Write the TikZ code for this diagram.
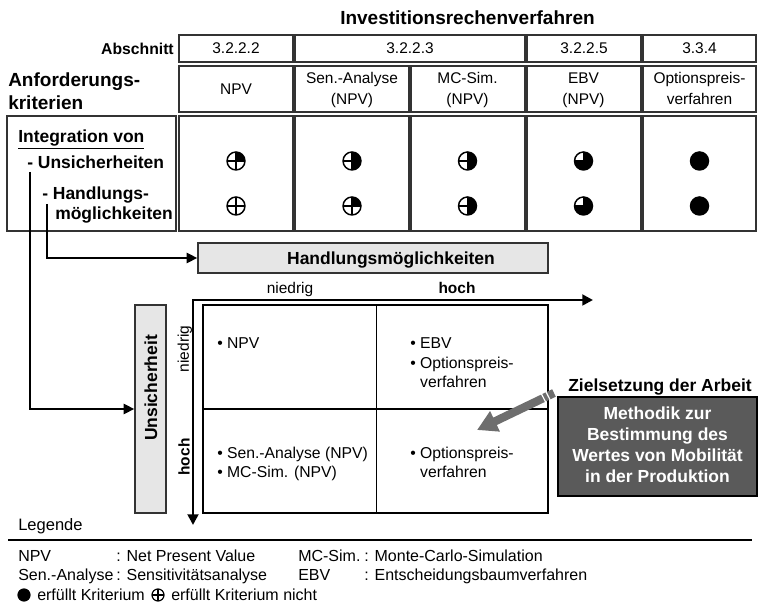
\documentclass[tikz,border=0pt]{standalone}
\usepackage{fontspec}
\setmainfont{Liberation Sans}
\usetikzlibrary{arrows.meta,calc}
\newcommand\fsreg{\fontsize{11.6}{15.75}\selectfont}
\newcommand\fslegend{\fontsize{12}{14}\selectfont}
\newcommand\fsquad{\fontsize{11.8}{14.6}\selectfont}
\newcommand\fsbold{\fontsize{13.1}{15.75}\selectfont\bfseries}
\newcommand\fsbig{\fontsize{14.25}{17.25}\selectfont\bfseries}
\newcommand\fsab{\fontsize{11.8}{14}\selectfont\bfseries}
\newcommand\hbcross{\draw[line width=0.9pt] (path picture bounding box.center) ++(-12,0) -- ++(24,0)
                  (path picture bounding box.center) ++(0,-12) -- ++(0,24);}
\definecolor{lightbox}{HTML}{E6E6E6}
\definecolor{darkbox}{HTML}{5A5A5A}
\definecolor{arrowgray}{HTML}{6E6E6E}
\tikzset{
  cellline/.style={draw=black!80, line width=1pt},
  txt/.style={inner sep=0pt, font=\fsreg},
  ltxt/.style={inner sep=0pt, font=\fslegend, anchor=base west},
  qtxt/.style={inner sep=0pt, font=\fsquad, align=left, anchor=base west},
  btxt/.style={inner sep=0pt, font=\fsbold},
  hbbase/.style={circle, draw=black, line width=1.1pt, minimum size=13.5pt, inner sep=0pt},
  hb/.style={hbbase, path picture={\hbcross}},
  hbq/.style={hbbase, path picture={\fill (path picture bounding box.center) rectangle ++(12,-12); \hbcross}},
  hbh/.style={hbbase, path picture={\fill (path picture bounding box.center) ++(0,-12) rectangle ++(12,24); \hbcross}},
  hbt/.style={hbbase, path picture={\fill (path picture bounding box.center) ++(-12,0) rectangle ++(24,12);
                                 \fill (path picture bounding box.center) rectangle ++(12,-12); \hbcross}},
  hbf/.style={circle, draw=black, fill=black, line width=1.1pt, minimum size=13.5pt, inner sep=0pt},
  lgopen/.style={hb, minimum size=9pt, line width=0.9pt},
  lgfull/.style={hbf, minimum size=9pt, line width=0.9pt},
  graybox/.style={draw=black!80, fill=lightbox, line width=1pt, inner sep=0pt},
  conn/.style={line width=1.9pt, -{Triangle[length=8pt,width=7.5pt]}},
  axis/.style={line width=2.2pt, line join=miter, {Triangle[length=8pt,width=8pt]}-{Triangle[length=8pt,width=8pt]}},
}
\begin{document}
\begin{tikzpicture}[x=0.75pt,y=-0.75pt]
\useasboundingbox (0,0) rectangle (758,605);

% ---------- title ----------
\node[inner sep=0pt, font=\fsbig, anchor=base] (title) at (467.5,24.8) {Investitionsrechenverfahren};

% ---------- row 1 ----------
\node[inner sep=0pt, font=\fsab, anchor=base east] (absch) at (174,54.2) {Abschnitt};
\draw[cellline] (179,35) rectangle (293,62);
\draw[cellline] (295,35) rectangle (525,62);
\draw[cellline] (527,35) rectangle (641,62);
\draw[cellline] (643,35) rectangle (756,62);
\node[txt, anchor=base] (a1) at (236,54) {3.2.2.2};
\node[txt, anchor=base] (a2) at (410,54) {3.2.2.3};
\node[txt, anchor=base] (a3) at (584,54) {3.2.2.5};
\node[txt, anchor=base] (a4) at (699.5,54) {3.3.4};

% ---------- row 2 ----------
\node[inner sep=0pt, font=\fsbig, align=left, anchor=base west] (anf) at (8,109.8) {Anforderungs-\\kriterien};
\draw[cellline] (179,66) rectangle (293,112);
\draw[cellline] (295,66) rectangle (409,112);
\draw[cellline] (411,66) rectangle (525,112);
\draw[cellline] (527,66) rectangle (641,112);
\draw[cellline] (643,66) rectangle (756,112);
\node[txt, anchor=base] (m1) at (236,94.5) {NPV};
\node[txt, anchor=base, align=center] (m2) at (352,104.8) {Sen.-Analyse\\(NPV)};
\node[txt, anchor=base, align=center] (m3) at (467.5,104.8) {MC-Sim.\\(NPV)};
\node[txt, anchor=base, align=center] (m4) at (583.5,104.8) {EBV\\(NPV)};
\node[txt, anchor=base, align=center] (m5) at (699.5,104.8) {Optionspreis-\\verfahren};

% ---------- row 3 ----------
\draw[cellline] (7,116) rectangle (176,231);
\draw[cellline] (179,116) rectangle (293,231);
\draw[cellline] (295,116) rectangle (409,231);
\draw[cellline] (411,116) rectangle (525,231);
\draw[cellline] (527,116) rectangle (641,231);
\draw[cellline] (643,116) rectangle (756,231);
\node[btxt, anchor=base west] (integ) at (18,142.3) {\underline{Integration von}};
\node[btxt, anchor=base west] (unsi) at (27,168.3) {- Unsicherheiten};
\node[btxt, anchor=base west] (hand) at (42,199.3) {- Handlungs-};
\node[btxt, anchor=base west] (hand2) at (55,219.3) {möglichkeiten};

% Harvey balls
\node[hbq] (b11) at (236,161) {};
\node[hb]  (b12) at (236,206) {};
\node[hbh] (b21) at (352,161) {};
\node[hbq] (b22) at (352,206) {};
\node[hbh] (b31) at (467.5,161) {};
\node[hbh] (b32) at (467.5,206) {};
\node[hbt] (b41) at (583.5,161) {};
\node[hbt] (b42) at (583.5,206) {};
\node[hbf] (b51) at (699.5,161) {};
\node[hbf] (b52) at (699.5,206) {};

% ---------- Handlungsmöglichkeiten box ----------
\node[graybox, minimum width=262.5pt, minimum height=22.5pt] (hbox) at (373,258) {};
\node[btxt, anchor=base] (hboxt) at (391,264.3) {Handlungsmöglichkeiten};

% ---------- Unsicherheit box ----------
\node[graybox, minimum width=23.25pt, minimum height=156pt] (ubox) at (150.5,409) {};
\node[btxt, rotate=90] (uboxt) at (151,388) {Unsicherheit};

% ---------- connectors ----------
\coordinate (cu) at (30,172);
\coordinate (ch) at (47,204);
\draw[conn] (ch) |- (hbox.west);
\draw[conn] (cu) |- (ubox.west);

% ---------- axes ----------
\coordinate (org) at (193,300);
\coordinate (xend) at (593,300);
\coordinate (yend) at (193,525);
\draw[axis] (xend) -- (org) -- (yend);
\node[txt, anchor=base] (xlow) at (290,293.5) {niedrig};
\node[txt, font=\fsreg\bfseries, anchor=base] (xhigh) at (457,293.5) {hoch};
\node[txt, rotate=90] (ylow) at (185,349) {niedrig};
\node[txt, font=\fsreg\bfseries, rotate=90] (yhigh) at (184,457) {hoch};

% ---------- matrix ----------
\draw[line width=1pt] (203,305) rectangle (548,513);
\draw[line width=1pt] (376.5,305) -- (376.5,513);
\draw[line width=1pt] (203,409) -- (548,409);
\node[qtxt] (q1) at (217,348.7) {• NPV};
\node[qtxt] (q2) at (410,387.7) {• EBV\\• Optionspreis-\\\phantom{• }verfahren};
\node[qtxt] (q3) at (217,477.7) {• Sen.-Analyse (NPV)\\• MC-Sim. (NPV)};
\node[qtxt] (q4) at (410,477.7) {• Optionspreis-\\\phantom{• }verfahren};

% ---------- goal box ----------
\node[btxt, anchor=base] (ziel) at (660,391.3) {Zielsetzung der Arbeit};
\node[draw=black, line width=1pt, fill=darkbox, minimum width=149.25pt, minimum height=74.25pt, inner sep=0pt] (gbox) at (657.5,446.5) {};
\node[btxt, text=white, align=center, anchor=base] (gboxt) at (657.5,482.3)
  {Methodik zur\\Bestimmung des\\Wertes von Mobilität\\in der Produktion};

% gray arrow
\coordinate (gtail) at (554,393);
\coordinate (gtip) at (477,430);
\draw[arrowgray, line width=6.2pt, -{Triangle[length=15pt,width=16pt]}] (gtail) -- (gtip);
\draw[white, line width=0.9pt] (550.3,400.2) -- (545.3,390.4);
\draw[white, line width=0.9pt] (545.8,402.4) -- (540.8,392.6);

% ---------- legend ----------
\node[inner sep=0pt, font=\fontsize{12.4}{14}\selectfont, anchor=base west] (leg) at (18,531) {Legende};
\coordinate (ll) at (8,540);
\coordinate (lr) at (752,540);
\draw[line width=1pt] (ll) -- (lr);
\node[ltxt] (l1a) at (18,561.5) {NPV};
\node[ltxt] (l1b) at (116,561.5) {: Net Present Value};
\node[ltxt] (l1c) at (298,561.5) {MC-Sim.};
\node[ltxt] (l1d) at (364,561.5) {: Monte-Carlo-Simulation};
\node[ltxt] (l2a) at (18,580.5) {Sen.-Analyse};
\node[ltxt] (l2b) at (116,580.5) {: Sensitivitätsanalyse};
\node[ltxt] (l2c) at (298,580.5) {EBV};
\node[ltxt] (l2d) at (364,580.5) {: Entscheidungsbaumverfahren};
\node[lgfull] (lf) at (24,595) {};
\node[ltxt] (l3a) at (37,600.5) {erfüllt Kriterium};
\node[lgopen] (lo) at (158,595) {};
\node[ltxt] (l3b) at (171,600.5) {erfüllt Kriterium nicht};
\end{tikzpicture}
\end{document}
